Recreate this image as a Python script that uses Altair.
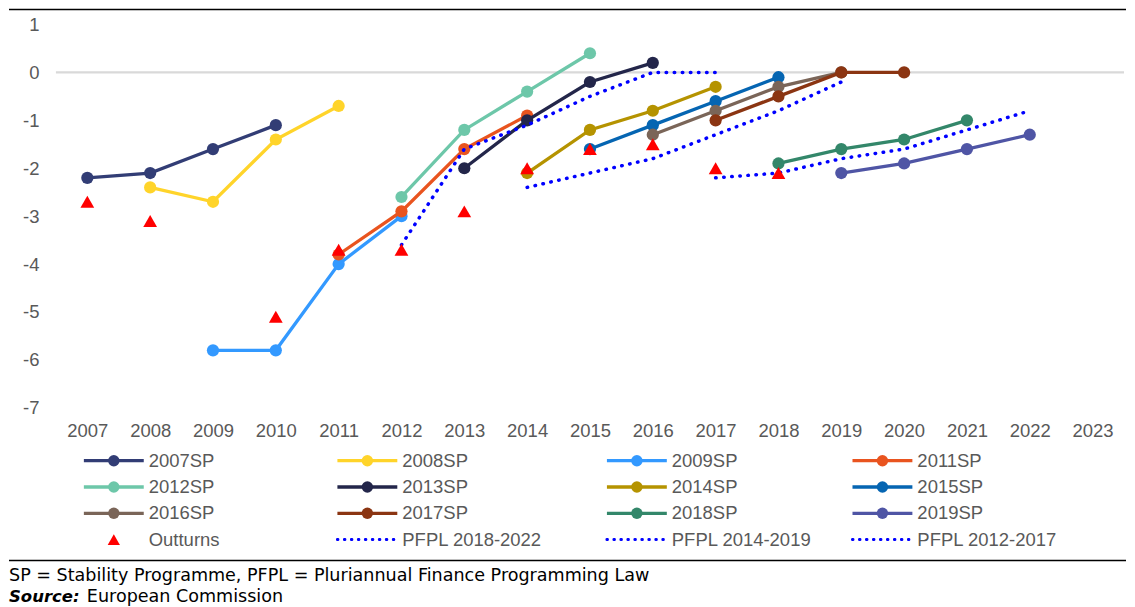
import altair as alt
import pandas as pd

# ---------------- data ----------------
years = list(range(2007, 2024))
y_ticks = list(range(-7, 2))

sp_names = ["2007SP", "2008SP", "2009SP", "2011SP", "2012SP", "2013SP",
            "2014SP", "2015SP", "2016SP", "2017SP", "2018SP", "2019SP"]
sp_start = [2007, 2008, 2009, 2011, 2012, 2013, 2014, 2015, 2016, 2017, 2018, 2019]
sp2007 = [-2.2, -2.1, -1.6, -1.1]
sp2008 = [-2.4, -2.7, -1.4, -0.7]
sp2009 = [-5.8, -5.8, -4.0, -3.0]
sp2011 = [-3.8, -2.9, -1.6, -0.9]
sp2012 = [-2.6, -1.2, -0.4, 0.4]
sp2013 = [-2.0, -1.0, -0.2, 0.2]
sp2014 = [-2.1, -1.2, -0.8, -0.3]
sp2015 = [-1.6, -1.1, -0.6, -0.1]
sp2016 = [-1.3, -0.8, -0.3, 0.0]
sp2017 = [-1.0, -0.5, 0.0, 0.0]
sp2018 = [-1.9, -1.6, -1.4, -1.0]
sp2019 = [-2.1, -1.9, -1.6, -1.3]
sp_values = [sp2007, sp2008, sp2009, sp2011, sp2012, sp2013,
             sp2014, sp2015, sp2016, sp2017, sp2018, sp2019]

outturn_years = [2007, 2008, 2010, 2011, 2012, 2013, 2014, 2015, 2016, 2017, 2018]
outturn_values = [-2.7, -3.1, -5.1, -3.7, -3.7, -2.9, -2.0, -1.6, -1.5, -2.0, -2.1]

pfpl_names = ["PFPL 2018-2022", "PFPL 2014-2019", "PFPL 2012-2017"]
pfpl_start = [2017, 2014, 2012]
pfpl_2018_2022 = [-2.2, -2.1, -1.8, -1.6, -1.2, -0.8]
pfpl_2014_2019 = [-2.4, -2.1, -1.8, -1.3, -0.8, -0.2]
pfpl_2012_2017 = [-3.6, -1.6, -1.1, -0.5, 0.0, 0.0]
pfpl_values = [pfpl_2018_2022, pfpl_2014_2019, pfpl_2012_2017]

legend_labels = sp_names + ["Outturns"] + pfpl_names
footnote = "SP = Stability Programme, PFPL = Pluriannual Finance Programming Law"
source_label = "Source:"
source_text = "European Commission"

# ---------------- styles ----------------
sp_colors = ["#323D75", "#FFD42A", "#3399FF", "#E9541F", "#6DC7A9", "#23264A",
             "#B59300", "#0565B2", "#7A6558", "#8B3512", "#33876A", "#4F55A5"]
outturn_color = "#FF0000"
pfpl_color = "#0000FF"
label_color = "#595959"
axis_font = "Liberation Sans"
note_font = "DejaVu Sans"
W, H = 1070, 384

# ---------------- tables ----------------
sp_rows = []
for name, start, vals in zip(sp_names, sp_start, sp_values):
    for k, v in enumerate(vals):
        sp_rows.append({"series": name, "year": start + k, "value": v})
sp_df = pd.DataFrame(sp_rows)

pf_rows = []
for name, start, vals in zip(pfpl_names, pfpl_start, pfpl_values):
    for k, v in enumerate(vals):
        pf_rows.append({"series": name, "year": start + k, "value": v})
pf_df = pd.DataFrame(pf_rows)

out_df = pd.DataFrame({"year": outturn_years, "value": outturn_values})

kinds = ["sp"] * len(sp_names) + ["out"] + ["pfpl"] * len(pfpl_names)
leg_df = pd.DataFrame({
    "label": legend_labels,
    "kind": kinds,
    "col": [i % 4 for i in range(len(legend_labels))],
    "row": [i // 4 for i in range(len(legend_labels))],
})

# ---------------- scales / encodings ----------------
color_scale = alt.Scale(domain=sp_names, range=sp_colors)
X = alt.X("year:Q",
          scale=alt.Scale(domain=[2006.5, 2023.5], nice=False, zero=False),
          axis=alt.Axis(values=years, labelExpr="'' + datum.value", title=None,
                        grid=False, domain=False, ticks=False, labelPadding=14,
                        labelFont=axis_font, labelFontSize=18.5,
                        labelColor=label_color, labelFlush=False))
Y = alt.Y("value:Q",
          scale=alt.Scale(domain=[-7, 1], nice=False, zero=False),
          axis=alt.Axis(values=y_ticks, labelExpr="'' + datum.value", title=None,
                        grid=False, domain=False, ticks=False, labelPadding=17,
                        labelFont=axis_font, labelFontSize=18.5,
                        labelColor=label_color))

zero_line = alt.Chart(pd.DataFrame({"value": [0]})).mark_rule(
    color="#D9D9D9", strokeWidth=2.2).encode(y=Y)

main_layers = [zero_line]
for name in sp_names:
    base = alt.Chart(sp_df).transform_filter(alt.datum.series == name)
    main_layers.append(base.mark_line(strokeWidth=3.3).encode(
        x=X, y=Y, color=alt.Color("series:N", scale=color_scale, legend=None)))
    main_layers.append(base.mark_circle(size=150, opacity=1).encode(
        x=X, y=Y, color=alt.Color("series:N", scale=color_scale, legend=None)))

pfpl_layer = alt.Chart(pf_df).mark_line(
    color=pfpl_color, strokeWidth=3.5, strokeDash=[0.5, 7.6], strokeCap="round"
).encode(x=X, y=Y, detail="series:N")
out_layer = alt.Chart(out_df).mark_point(
    shape="triangle-up", filled=True, size=190, color=outturn_color, opacity=1
).encode(x=X, y=Y)
main_layers += [pfpl_layer, out_layer]
main = alt.layer(*main_layers)

# ---------------- legend (own scales) ----------------
LX = alt.X("col:Q", scale=alt.Scale(domain=[0, 1, 2, 3], range=[28, 282, 552, 798]),
           axis=None)
LX2 = alt.X2("col:Q")
LY = alt.Y("row:Q", scale=alt.Scale(domain=[0, 3], range=[437, 516], nice=False,
                                    zero=False), axis=None)
leg_base = alt.Chart(leg_df)
leg_sp = leg_base.transform_filter(alt.datum.kind == "sp")
leg_lines = leg_sp.mark_rule(strokeWidth=3.3, x2Offset=60).encode(
    x=LX, x2=LX2, y=LY,
    color=alt.Color("label:N", scale=color_scale, legend=None))
leg_pts = leg_sp.mark_circle(size=130, opacity=1, xOffset=30).encode(
    x=LX, y=LY, color=alt.Color("label:N", scale=color_scale, legend=None))
leg_tri = leg_base.transform_filter(alt.datum.kind == "out").mark_point(
    shape="triangle-up", filled=True, size=150, color=outturn_color, opacity=1,
    xOffset=30).encode(x=LX, y=LY)
leg_dot = leg_base.transform_filter(alt.datum.kind == "pfpl").mark_rule(
    color=pfpl_color, strokeWidth=3.0, strokeDash=[0.5, 6.5], strokeCap="round",
    x2Offset=60).encode(x=LX, x2=LX2, y=LY)
leg_txt = leg_base.mark_text(
    align="left", baseline="middle", dx=65, font=axis_font, fontSize=18.5,
    color=label_color).encode(x=LX, y=LY, text="label:N")

# ---------------- frame lines and notes ----------------
one = pd.DataFrame({"a": [0]})
top_line = alt.Chart(one).mark_rule(color="#000000", strokeWidth=1.5).encode(
    x=alt.value(-47), x2=alt.value(1072), y=alt.value(-15))
sep_line = alt.Chart(one).mark_rule(color="#000000", strokeWidth=1.5).encode(
    x=alt.value(-47), x2=alt.value(1072), y=alt.value(537))
note1 = alt.Chart(pd.DataFrame({"t": [footnote]})).mark_text(
    align="left", baseline="middle", font=note_font, fontSize=17.6,
    color="#000000").encode(x=alt.value(-47), y=alt.value(552), text="t:N")
note2a = alt.Chart(pd.DataFrame({"t": [source_label]})).mark_text(
    align="left", baseline="middle", font=note_font, fontSize=16.5,
    fontWeight="bold", fontStyle="italic", color="#000000").encode(
    x=alt.value(-47), y=alt.value(574), text="t:N")
note2b = alt.Chart(pd.DataFrame({"t": [source_text]})).mark_text(
    align="left", baseline="middle", font=note_font, fontSize=17.6,
    color="#000000").encode(x=alt.value(31), y=alt.value(574), text="t:N")

legend = alt.layer(leg_lines, leg_pts, leg_tri, leg_dot, leg_txt,
                   top_line, sep_line, note1, note2a, note2b)

chart = alt.layer(main, legend).resolve_scale(
    x="independent", y="independent"
).properties(width=W, height=H, padding=0).configure_view(stroke=None)

chart.save("out.html", embed_options={"renderer": "svg", "actions": False})
